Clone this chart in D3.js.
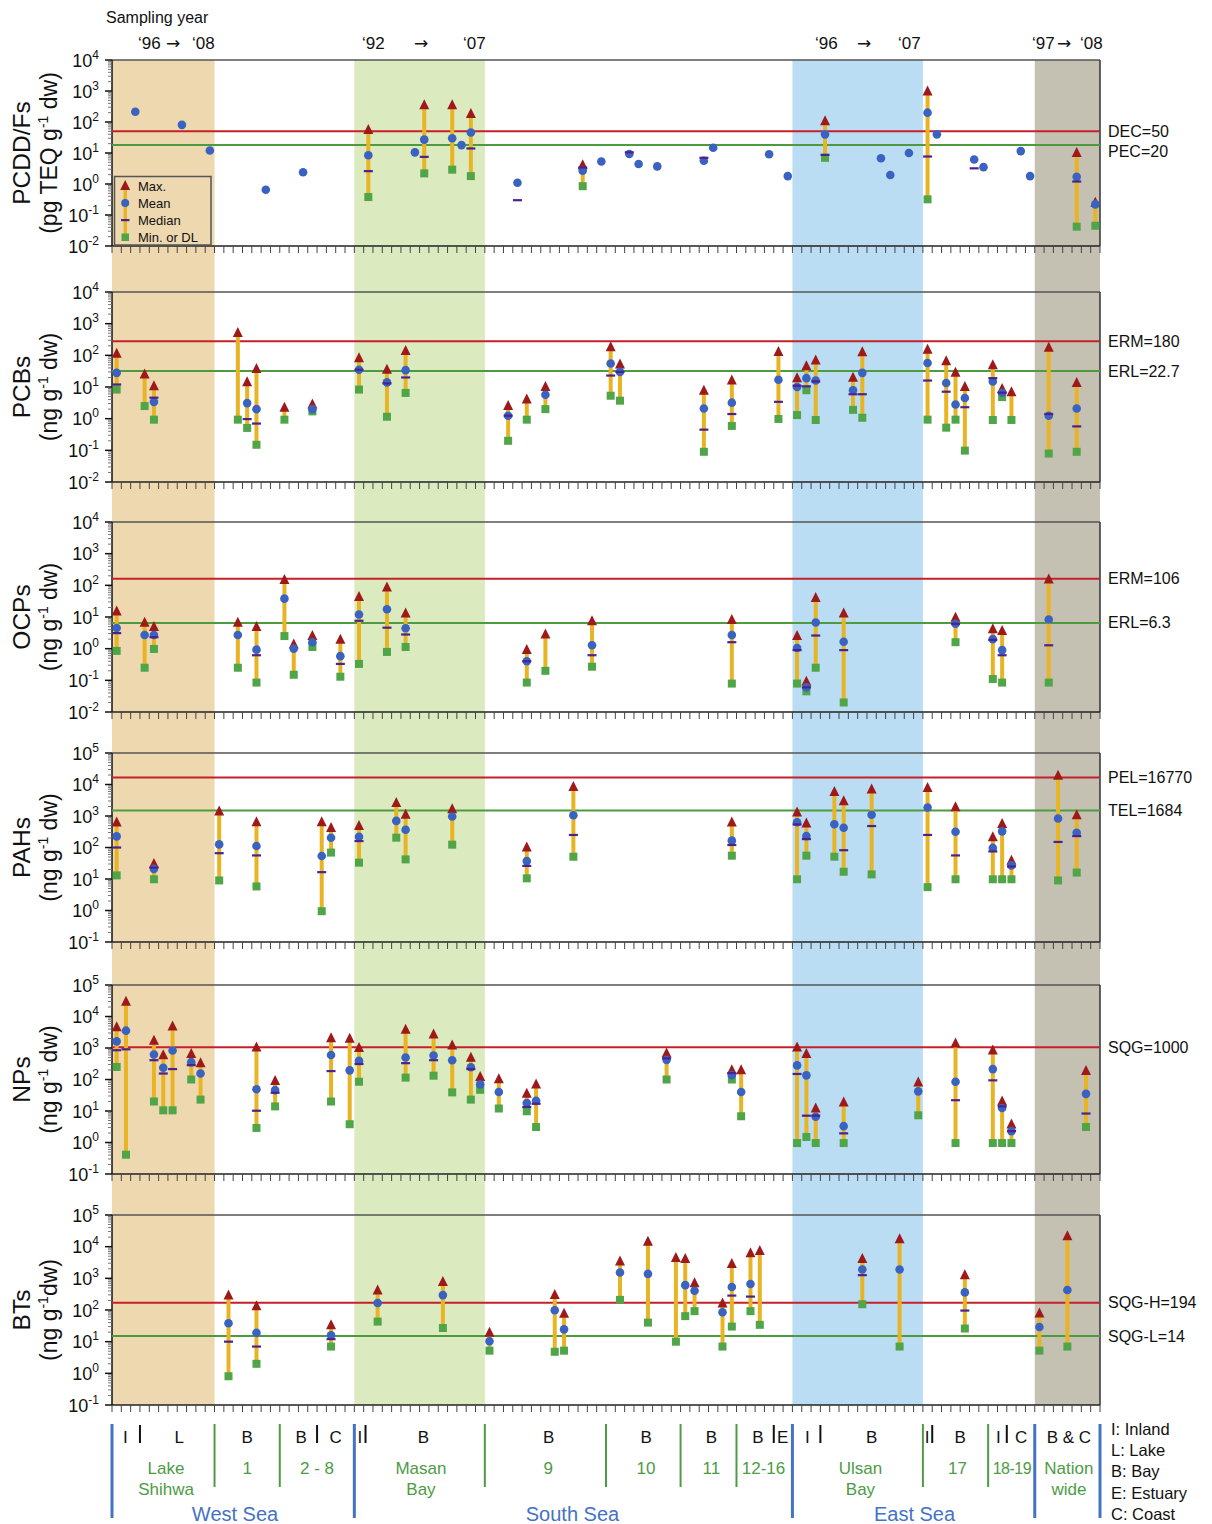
<!DOCTYPE html>
<html>
<head>
<meta charset="utf-8">
<script src="https://cdn.jsdelivr.net/npm/d3@7"></script>
<style>
  body { margin: 0; background: #fff; }
  text { font-family: "Liberation Sans", Arial, sans-serif; }
</style>
</head>
<body>
<div id="chart"></div>
<script>
// rows are [slot, max, mean, median, min]; null = not reported
const pcddData = [
  [2, null, 214, null, null], [7, null, 81, null, null], [10, null, 12, null, null],
  [16, null, 0.65, null, null], [20, null, 2.4, null, null],
  [27, 55, 8.5, 2.6, 0.38], [32, null, 10.5, null, null], [33, 350, 27, 7.5, 2.2],
  [36, 350, 30, null, 2.9], [37, null, 18, null, null], [38, 180, 46, 14, 1.8],
  [43, null, 1.1, 0.3, null], [50, 4.0, 2.7, 3.4, 0.85], [52, null, 5.3, null, null],
  [55, null, 9.3, 10.5, null], [56, null, 4.4, null, null], [58, null, 3.7, null, null],
  [63, null, 5.6, 7, null], [64, null, 14.7, null, null], [70, null, 9.1, null, null],
  [72, null, 1.8, null, null], [76, 105, 40, 8.7, 7], [82, null, 6.8, null, null],
  [83, null, 1.95, null, null], [85, null, 10, null, null], [87, 970, 200, 7.7, 0.32],
  [88, null, 40, null, null], [92, null, 6.2, 3.2, null], [93, null, 3.5, null, null],
  [97, null, 11.5, null, null], [98, null, 1.8, null, null],
  [103, 10, 1.7, 1.2, 0.042], [105, 0.25, 0.22, null, 0.045]
];
const pcbData = [
  [0, 112, 28, 12, 8.3], [3, 25, null, null, 2.5], [4, 10.5, 3.4, 4.6, 0.93],
  [13, 510, null, null, 0.93], [14, 14, 3.1, 0.97, 0.51], [15, 37, 2.0, 0.7, 0.15],
  [18, 2.2, null, null, 0.93], [21, 2.8, 2.0, null, 1.7], [26, 81, 35, 35, 8.3],
  [29, 35, 14, 13, 1.15], [31, 137, 34, 20, 6.5], [42, 2.5, 1.24, 1.24, 0.2],
  [44, 4, null, null, 0.93], [46, 10, 5.7, null, 2.0], [53, 180, 55, 23, 5.3],
  [54, 51, 30, 30, 3.7], [63, 7.6, 2.1, 0.45, 0.09], [66, 16, 3.2, 1.4, 0.59],
  [71, 128, 17, 3.4, 0.98], [73, 19, 10, 11, 1.3], [74, 45, 19, 10.5, 7.9],
  [75, 69, 16, 15, 0.91], [79, 19.5, 7.9, 5.9, 1.9], [80, 124, 28, 5.9, 1.07],
  [87, 150, 57, 16, 0.93], [89, 65, 13.4, 7.1, 0.52], [90, 28, 2.8, null, 0.93],
  [91, 10, 4.5, 2.3, 0.098], [94, 49, 15, 19, 0.91], [95, 8.7, 6.6, 6.6, 4.8],
  [96, 6.8, null, null, 0.91], [100, 175, 1.24, 1.4, 0.079], [103, 13.4, 2.1, 0.57, 0.09]
];
const ocpData = [
  [0, 15, 4.5, 3.1, 0.85], [3, 6.6, 2.7, null, 0.25], [4, 4.8, 2.7, 2.3, 0.98],
  [13, 6.6, 2.7, null, 0.25], [15, 4.8, 0.93, 0.62, 0.085], [18, 148, 38, null, 2.5],
  [19, 1.35, 1.0, null, 0.15], [21, 2.5, 1.6, null, 1.13], [24, 1.9, 0.58, 0.33, 0.13],
  [26, 43, 12, 7.6, 0.33], [29, 86, 17.5, 4.6, 0.79], [31, 13, 4.4, 2.8, 1.13],
  [44, 0.9, 0.4, 0.4, 0.085], [46, 2.8, null, null, 0.2], [51, 7.4, 1.28, 0.62, 0.27],
  [66, 8.1, 2.7, 1.6, 0.079], [73, 2.5, 1.05, 0.9, 0.079], [74, 0.09, 0.06, 0.06, 0.045],
  [75, 40, 6.7, 2.6, 0.25], [78, 13, 1.66, 0.9, 0.02], [90, 9.4, 6.1, 6.1, 1.6],
  [94, 4.1, 2.0, 1.9, 0.11], [95, 3.6, 0.9, 0.62, 0.085], [100, 152, 8.3, 1.28, 0.085]
];
const pahData = [
  [0, 620, 225, 100, 13], [4, 30, 21, 23, 9.8], [11, 1400, 126, 66, 9],
  [15, 630, 112, 56, 5.8], [22, 630, 54, 16.5, 0.95], [23, 415, 205, null, 69],
  [26, 480, 220, 160, 33], [30, 2600, 700, null, 205], [31, 1090, 365, null, 42],
  [36, 1630, 960, null, 123], [44, 100, 37, 26, 10.5], [49, 8300, 1060, 250, 51],
  [66, 620, 165, 120, 55], [73, 1290, 630, 540, 9.8], [74, 580, 230, 185, 55],
  [77, 5750, 550, null, 51], [78, 2930, 425, 82, 17], [81, 6950, 1090, 480, 14],
  [87, 7700, 1850, 250, 5.5], [90, 1900, 316, 56, 9.8], [94, 210, 97, 75, 9.8],
  [95, 560, 325, null, 9.8], [96, 38, 27, 25, 9.8], [101, 19000, 830, 150, 9],
  [103, 1060, 295, 230, 16]
];
const npData = [
  [0, 4570, 1620, 850, 250], [1, 29500, 3550, 910, 0.41], [4, 1700, 620, 410, 20],
  [5, 590, 235, 155, 10.5], [6, 4800, 830, 214, 10.5], [8, 650, 355, 285, 100],
  [9, 330, 155, null, 23], [15, 1030, 49, 10.2, 2.9], [17, 90, 46, 38, 14],
  [23, 2050, 600, 185, 20], [25, 1950, 195, null, 3.8], [26, 1000, 390, 310, 85],
  [31, 3800, 500, 330, 115], [34, 2700, 575, 410, 132], [36, 1200, 410, null, 39],
  [38, 490, 245, 214, 23], [39, 120, 70, null, 47], [41, 102, 40, null, 12],
  [44, 35, 18, 13.4, 9.8], [45, 70, 21, 17, 3.1], [59, 665, 420, 470, 100],
  [66, 195, 138, 160, 100], [67, 195, 40, null, 6.8], [73, 1030, 280, 150, 0.96],
  [74, 650, 135, 7.1, 1.5], [75, 12, 6.6, 7.1, 0.96], [78, 18.6, 3.3, 1.95, 0.96],
  [86, 81, 42, null, 7.3], [90, 1400, 85, 22, 0.96], [94, 830, 214, 94, 0.96],
  [95, 20, 12.4, 14, 0.96], [96, 3.7, 2.3, 2.3, 0.96], [104, 185, 35, 8.3, 3.1]
];
const btData = [
  [12, 285, 38, 10, 0.81], [15, 132, 19, 7, 2.0], [23, 33, 16, 12, 7],
  [28, 415, 166, null, 43], [35, 760, 295, null, 27], [40, 19, 10.3, null, 5.2],
  [47, 295, 98, null, 4.8], [48, 76, 24.5, null, 5.2], [54, 3400, 1520, null, 209],
  [57, 14200, 1380, null, 40], [60, 4400, null, null, 10], [61, 4100, 610, null, 64],
  [62, 705, 405, null, 92], [65, 160, 85, null, 7], [66, 2850, 530, 285, 30],
  [68, 6150, 660, 265, 92], [69, 7250, null, null, 34], [80, 4100, 1900, 1260, 152],
  [84, 17300, 1900, null, 7], [91, 1260, 360, 96, 26], [99, 78, 29, null, 5.2],
  [102, 21500, 430, null, 7]
];

// guideline [label, value as drawn, colour]
const pcddGuides = [["DEC=50", 50, "red"], ["PEC=20", 18, "green"]];
const pcbGuides  = [["ERM=180", 280, "red"], ["ERL=22.7", 32, "green"]];
const ocpGuides  = [["ERM=106", 160, "red"], ["ERL=6.3", 6.5, "green"]];
const pahGuides  = [["PEL=16770", 16770, "red"], ["TEL=1684", 1500, "green"]];
const npGuides   = [["SQG=1000", 1050, "red"]];
const btGuides   = [["SQG-H=194", 170, "red"], ["SQG-L=14", 15, "green"]];

const nSlots = 106;
const shadeFrom = [0, 26, 73, 99];
const shadeTo = [11, 40, 87, 106];
const shadeColors = ["#EED8B0", "#DBEABF", "#BBDDF4", "#C4C0B2"];

// bottom classification rows
const seaLines = [0, 26, 73, 99, 106];
const regionLines = [11, 18, 40, 53, 61, 67, 87, 94];
const habitatLines = [3, 22, 27.2, 71, 76, 88, 96];
const habitatLabels = [["I", 1.43], ["L", 7.2], ["B", 14.5], ["B", 20.3], ["C", 24],
  ["I", 26.6], ["B", 33.4], ["B", 46.85], ["B", 57.3], ["B", 64.3], ["B", 69.3],
  ["E", 71.95], ["I", 74.6], ["B", 81.5], ["I", 87.45], ["B", 91], ["I", 95.1],
  ["C", 97.55], ["B & C", 102.66]];
const regionLabels = [[["Lake", "Shihwa"], 5.8], [["1"], 14.5], [["2 - 8"], 22],
  [["Masan", "Bay"], 33.15], [["9"], 46.8], [["10"], 57.3], [["11"], 64.3],
  [["12-16"], 69.9], [["Ulsan", "Bay"], 80.3], [["17"], 90.7], [["18-19"], 96.55],
  [["Nation", "wide"], 102.66]];
const seaLabels = [["West Sea", 13.2], ["South Sea", 49.4], ["East Sea", 86.1]];
const habitatKey = ["I: Inland", "L: Lake", "B: Bay", "E: Estuary", "C: Coast"];

// sampling-year notes above the top panel: [text, x of left edge]
const yearMarks = [["‘96", 138], ["→", 166], ["‘08", 192], ["‘92", 362], ["→", 414],
  ["‘07", 463], ["‘96", 815], ["→", 857], ["‘07", 898], ["‘97", 1032], ["→", 1057], ["‘08", 1080]];

const panels = [
  { name: "PCDD/Fs", unit: [["(pg TEQ g", 0], ["-1", 1], [" dw)", 0]], data: pcddData, guides: pcddGuides, top: 60, bottom: 246, lo: -2, hi: 4 },
  { name: "PCBs", unit: [["(ng g", 0], ["-1", 1], [" dw)", 0]], data: pcbData, guides: pcbGuides, top: 292, bottom: 482, lo: -2, hi: 4 },
  { name: "OCPs", unit: [["(ng g", 0], ["-1", 1], [" dw)", 0]], data: ocpData, guides: ocpGuides, top: 522, bottom: 712, lo: -2, hi: 4 },
  { name: "PAHs", unit: [["(ng g", 0], ["-1", 1], [" dw)", 0]], data: pahData, guides: pahGuides, top: 753, bottom: 942, lo: -1, hi: 5 },
  { name: "NPs", unit: [["(ng g", 0], ["-1", 1], [" dw)", 0]], data: npData, guides: npGuides, top: 985, bottom: 1174, lo: -1, hi: 5 },
  { name: "BTs", unit: [["(ng g", 0], ["-1", 1], ["dw)", 0]], data: btData, guides: btGuides, top: 1215, bottom: 1405, lo: -1, hi: 5 }
];

const C = {
  bar: "#E8B424", max: "#9E1A1A", mean: "#3A62C0", median: "#4A2390", min: "#4FA548",
  red: "#C4212B", green: "#4E9B3F", regionText: "#4E9B45", regionLine: "#4E9B45", sea: "#4472C4"
};

const left = 112, right = 1100;
const svg = d3.select("#chart").append("svg").attr("width", 1212).attr("height", 1524);

const x = d3.scaleBand().domain(d3.range(nSlots)).range([left, right]);
const xs = d3.scaleLinear().domain([0, nSlots]).range([left, right]);
const cx = s => x(s) + x.bandwidth() / 2;

// shaded columns run through all panels
shadeFrom.forEach((f, i) => {
  svg.append("rect")
    .attr("x", xs(f)).attr("width", xs(shadeTo[i]) - xs(f))
    .attr("y", 60).attr("height", 1405 - 60)
    .attr("fill", shadeColors[i]);
});

function tri(px, py) {
  return `M${px - 5},${py + 4}L${px + 5},${py + 4}L${px},${py - 6}Z`;
}

panels.forEach(p => {
  const y = d3.scaleLog().domain([10 ** p.lo, 10 ** p.hi]).range([p.bottom, p.top]);
  const g = svg.append("g");

  // frame
  g.append("line").attr("x1", left).attr("x2", right).attr("y1", p.top).attr("y2", p.top)
    .attr("stroke", "#555").attr("stroke-width", 1.5);
  g.append("line").attr("x1", right).attr("x2", right).attr("y1", p.top).attr("y2", p.bottom)
    .attr("stroke", "#333").attr("stroke-width", 1.5);
  g.append("line").attr("x1", left).attr("x2", right).attr("y1", p.bottom).attr("y2", p.bottom)
    .attr("stroke", "#222").attr("stroke-width", 1.5);
  g.append("line").attr("x1", left).attr("x2", left).attr("y1", p.top).attr("y2", p.bottom)
    .attr("stroke", "#111").attr("stroke-width", 1.5);

  // log ticks on the left
  for (let k = p.lo; k <= p.hi; k++) {
    for (let m = 1; m <= 9; m++) {
      if (k === p.hi && m > 1) break;
      const ty = y(m * 10 ** k);
      g.append("line").attr("x1", left - (m === 1 ? 7 : 4)).attr("x2", left)
        .attr("y1", ty).attr("y2", ty)
        .attr("stroke", m === 1 ? "#111" : "#777").attr("stroke-width", m === 1 ? 1.5 : 1);
    }
    const t = g.append("text").attr("x", 99).attr("y", y(10 ** k) + 6.5)
      .attr("text-anchor", "end").attr("font-size", 18).attr("fill", "#111");
    t.append("tspan").text("10");
    t.append("tspan").attr("font-size", 12).attr("dy", -8).text(k);
  }

  // slot ticks hanging below the panel
  d3.range(nSlots + 1).forEach(i => {
    g.append("line").attr("x1", xs(i)).attr("x2", xs(i))
      .attr("y1", p.bottom).attr("y2", p.bottom + 7)
      .attr("stroke", "#444").attr("stroke-width", 1);
  });

  // axis titles
  const cy = (p.top + p.bottom) / 2;
  g.append("text").attr("transform", `translate(30,${cy}) rotate(-90)`)
    .attr("text-anchor", "middle").attr("font-size", 24.5).attr("fill", "#111").text(p.name);
  const u = g.append("text").attr("transform", `translate(57,${cy}) rotate(-90)`)
    .attr("text-anchor", "middle").attr("font-size", 23).attr("fill", "#111");
  p.unit.forEach(([s, sup], i) => {
    const ts = u.append("tspan").text(s);
    if (sup) ts.attr("font-size", 14).attr("dy", -9);
    else if (i > 0) ts.attr("dy", 9);
  });

  // guidelines
  let lastY = -100;
  p.guides.forEach(([label, v, col]) => {
    const gy = y(v);
    g.append("line").attr("x1", left).attr("x2", right).attr("y1", gy).attr("y2", gy)
      .attr("stroke", col === "red" ? C.red : C.green).attr("stroke-width", 2);
    const ly = Math.max(gy, lastY + 20);
    lastY = ly;
    g.append("text").attr("x", 1108).attr("y", ly + 5.5)
      .attr("font-size", 16).attr("fill", "#111").text(label);
  });

  // range bars and markers
  const rows = p.data.map(r => ({ s: r[0], max: r[1], mean: r[2], median: r[3], min: r[4] }));
  g.selectAll(".bar").data(rows.filter(d => d.max != null && d.min != null)).enter()
    .append("rect").attr("x", d => cx(d.s) - 2).attr("width", 4)
    .attr("y", d => y(d.max)).attr("height", d => y(d.min) - y(d.max))
    .attr("fill", C.bar);
  g.selectAll(".mn").data(rows.filter(d => d.min != null)).enter()
    .append("rect").attr("x", d => cx(d.s) - 4).attr("y", d => y(d.min) - 4)
    .attr("width", 8).attr("height", 8).attr("fill", C.min);
  g.selectAll(".mx").data(rows.filter(d => d.max != null)).enter()
    .append("path").attr("d", d => tri(cx(d.s), y(d.max))).attr("fill", C.max);
  g.selectAll(".me").data(rows.filter(d => d.mean != null)).enter()
    .append("circle").attr("cx", d => cx(d.s)).attr("cy", d => y(d.mean))
    .attr("r", 4.3).attr("fill", C.mean);
  g.selectAll(".md").data(rows.filter(d => d.median != null)).enter()
    .append("rect").attr("x", d => cx(d.s) - 4.5).attr("y", d => y(d.median) - 1.1)
    .attr("width", 9).attr("height", 2.2).attr("fill", C.median);
});

// legend inside the first panel
const lg = svg.append("g");
lg.append("rect").attr("x", 114.5).attr("y", 176.5).attr("width", 96.5).attr("height", 68.5)
  .attr("fill", "none").attr("stroke", "#555").attr("stroke-width", 1.5);
lg.append("rect").attr("x", 123.5).attr("y", 186).attr("width", 3.5).attr("height", 52).attr("fill", C.bar);
lg.append("path").attr("d", tri(125.2, 186)).attr("fill", C.max);
lg.append("circle").attr("cx", 125.2).attr("cy", 203).attr("r", 4).attr("fill", C.mean);
lg.append("rect").attr("x", 121).attr("y", 219).attr("width", 8.5).attr("height", 2.2).attr("fill", C.median);
lg.append("rect").attr("x", 121.5).attr("y", 233.5).attr("width", 7.5).attr("height", 7.5).attr("fill", C.min);
["Max.", "Mean", "Median", "Min. or DL"].forEach((t, i) => {
  lg.append("text").attr("x", 138).attr("y", 190.5 + i * 17).attr("font-size", 13)
    .attr("fill", "#111").text(t);
});

// top annotations
svg.append("text").attr("x", 106).attr("y", 23).attr("font-size", 16).attr("fill", "#111").text("Sampling year");
yearMarks.forEach(([t, px]) => {
  const tx = svg.append("text").attr("x", px).attr("y", 49).attr("font-size", 17).attr("fill", "#111").text(t);
  if (t === "→") tx.style("font-family", "'DejaVu Sans', sans-serif").attr("font-size", 17);
});

// bottom classification
const bot = svg.append("g");
seaLines.forEach(s => bot.append("line").attr("x1", xs(s)).attr("x2", xs(s))
  .attr("y1", 1424).attr("y2", 1518).attr("stroke", C.sea).attr("stroke-width", 3));
regionLines.forEach(s => bot.append("line").attr("x1", xs(s)).attr("x2", xs(s))
  .attr("y1", 1424).attr("y2", 1487).attr("stroke", C.regionLine).attr("stroke-width", 2));
habitatLines.forEach(s => bot.append("line").attr("x1", xs(s)).attr("x2", xs(s))
  .attr("y1", 1425).attr("y2", 1443).attr("stroke", "#111").attr("stroke-width", 2));
habitatLabels.forEach(([t, s]) => bot.append("text").attr("x", xs(s)).attr("y", 1443)
  .attr("text-anchor", "middle").attr("font-size", 17).attr("fill", "#111").text(t));
regionLabels.forEach(([lines, s]) => lines.forEach((t, i) => bot.append("text")
  .attr("x", xs(s)).attr("y", 1474 + i * 21).attr("text-anchor", "middle")
  .attr("font-size", t === "18-19" ? 16 : 17).attr("letter-spacing", t === "18-19" ? -0.5 : 0)
  .attr("fill", C.regionText).text(t)));
seaLabels.forEach(([t, s]) => bot.append("text").attr("x", xs(s)).attr("y", 1521)
  .attr("text-anchor", "middle").attr("font-size", 20).attr("fill", C.sea).text(t));
habitatKey.forEach((t, i) => bot.append("text").attr("x", 1111).attr("y", 1435 + i * 21.2)
  .attr("font-size", 16.5).attr("fill", "#111").text(t));
</script>
</body>
</html>
